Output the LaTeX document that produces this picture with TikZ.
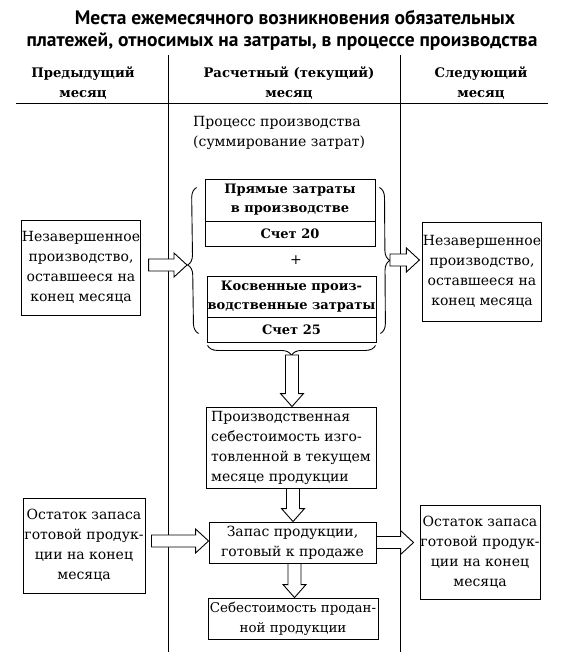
\documentclass[tikz,border=0pt]{standalone}
\usepackage{fontspec}
\setmainfont{DejaVu Serif}
\newfontfamily\titlefont{PT Sans}
\usetikzlibrary{decorations.pathreplacing,calc}
\newcommand\hollowR[2]{\draw[harrow] let \p1=#1, \p2=#2 in (\x1,\y1+6pt) -- (\x2-13pt,\y1+6pt) -- (\x2-13pt,\y1+12pt) -- (\x2,\y1) -- (\x2-13pt,\y1-12pt) -- (\x2-13pt,\y1-6pt) -- (\x1,\y1-6pt) -- cycle;}
\newcommand\hollowD[2]{\draw[harrow] let \p1=#1, \p2=#2 in (\x1-6.5pt,\y1) -- (\x1-6.5pt,\y2+13pt) -- (\x1-11.5pt,\y2+13pt) -- (\x1,\y2) -- (\x1+11.5pt,\y2+13pt) -- (\x1+6.5pt,\y2+13pt) -- (\x1+6.5pt,\y1) -- cycle;}
\begin{document}
\begin{tikzpicture}[x=1pt,y=-1pt,
  every node/.style={inner sep=0pt},
  txt/.style={font=\fontsize{14}{20}\selectfont},
  box/.style={draw, line width=0.9pt, align=center, txt},
  bbox/.style={draw, line width=0.9pt, align=center, font=\fontsize{13}{19}\selectfont\bfseries},
  head/.style={align=center, font=\fontsize{13.2}{20}\selectfont\bfseries},
  ttl/.style={font=\titlefont\fontsize{19.5}{24}\selectfont\bfseries},
  rule/.style={line width=1pt},
  brc/.style={decorate, decoration={brace, amplitude=10pt}, line width=0.9pt},
  harrow/.style={draw, line width=0.9pt, fill=white}]
\useasboundingbox (0,0) rectangle (562,658);
\fill[white] (0,0) rectangle (562,658);

% title
\node[ttl] (t1) at (295,18) {Места ежемесячного возникновения обязательных};
\node[ttl] (t2) at (282,42) {платежей, относимых на затраты, в процессе производства};

% column rules
\draw[rule] (168.6,55) -- (168.6,652);
\draw[rule] (400,55) -- (400,652);
\draw[rule] (16,104) -- (548,104);

% headers
\node[head] (h1) at (83,83) {Предыдущий\\месяц};
\node[head] (h2) at (289,83) {Расчетный (текущий)\\месяц};
\node[head] (h3) at (481,83) {Следующий\\месяц};

\node[txt, align=left, anchor=west] (proc) at (193,132.5) {Процесс производства\\(суммирование затрат)};

% cost boxes
\node[bbox, minimum width=170, minimum height=42] (pr1) at (290,200) {Прямые затраты\\в производстве};
\node[bbox, minimum width=170, minimum height=25] (pr2) at (290,233.5) {Счет 20};
\node[txt] (plus) at (296,260) {+};
\node[bbox, minimum width=169, minimum height=41] (kv1) at (291.5,296.5) {Косвенные произ-\\водственные затраты};
\node[bbox, minimum width=169, minimum height=25] (kv2) at (291.5,329.5) {Счет 25};

% side boxes
\node[box, minimum width=118, minimum height=95] (nzL) at (81,267.5) {Незавершенное\\производство,\\оставшееся на\\конец месяца};
\node[box, minimum width=116, minimum height=99] (nzR) at (482,271.5) {Незавершенное\\производство,\\оставшееся на\\конец месяца};
\node[box, minimum width=122, minimum height=95] (osL) at (84,545.5) {Остаток запаса\\готовой продук-\\ции на конец\\месяца};
\node[box, minimum width=120, minimum height=94] (osR) at (480,552) {Остаток запаса\\готовой продук-\\ции на конец\\месяца};

% flow boxes
\node[box, minimum width=170, minimum height=81, align=left] (pc) at (291,447.5) {Производственная\\себестоимость изго-\\товленной в текущем\\месяце продукции};
\node[box, minimum width=167, minimum height=41] (zp) at (292.5,542.5) {Запас продукции,\\готовый к продаже};
\node[box, minimum width=170, minimum height=41, font=\fontsize{13.4}{20}\selectfont] (sb) at (293,618.5) {Себестоимость продан-\\ной продукции};

% braces
\draw[brc, decoration={aspect=0.47}] ($(kv2.south west)+(-8,-9)$) -- ($(pr1.north west)+(-8,9)$);
\draw[brc] ($(pr1.north east)+(4,9)$) -- ($(kv2.south east)+(4,-9)$);
\draw[brc] ($(kv2.south east)+(-1,3)$) -- ($(kv2.south west)+(1,3)$);
\coordinate (lbt) at (187,265);
\coordinate (rbt) at (390,260);
\coordinate (bbt) at (292,355);

% hollow arrows
\hollowR{($(nzL.east)+(8,-2.5)$)}{(lbt)}
\hollowR{(rbt)}{($(nzR.west)+(-3,0)$)}
\hollowD{(bbt)}{(pc.north)}
\hollowD{($(pc.south)+(2,0)$)}{(zp.north)}
\hollowD{($(zp.south)+(2,0)$)}{(sb.north)}
\hollowR{($(osL.east)+(6,-4.5)$)}{(zp.west)}
\hollowR{(zp.east)}{($(osR.west)+(-6,0)$)}
\end{tikzpicture}
\end{document}
